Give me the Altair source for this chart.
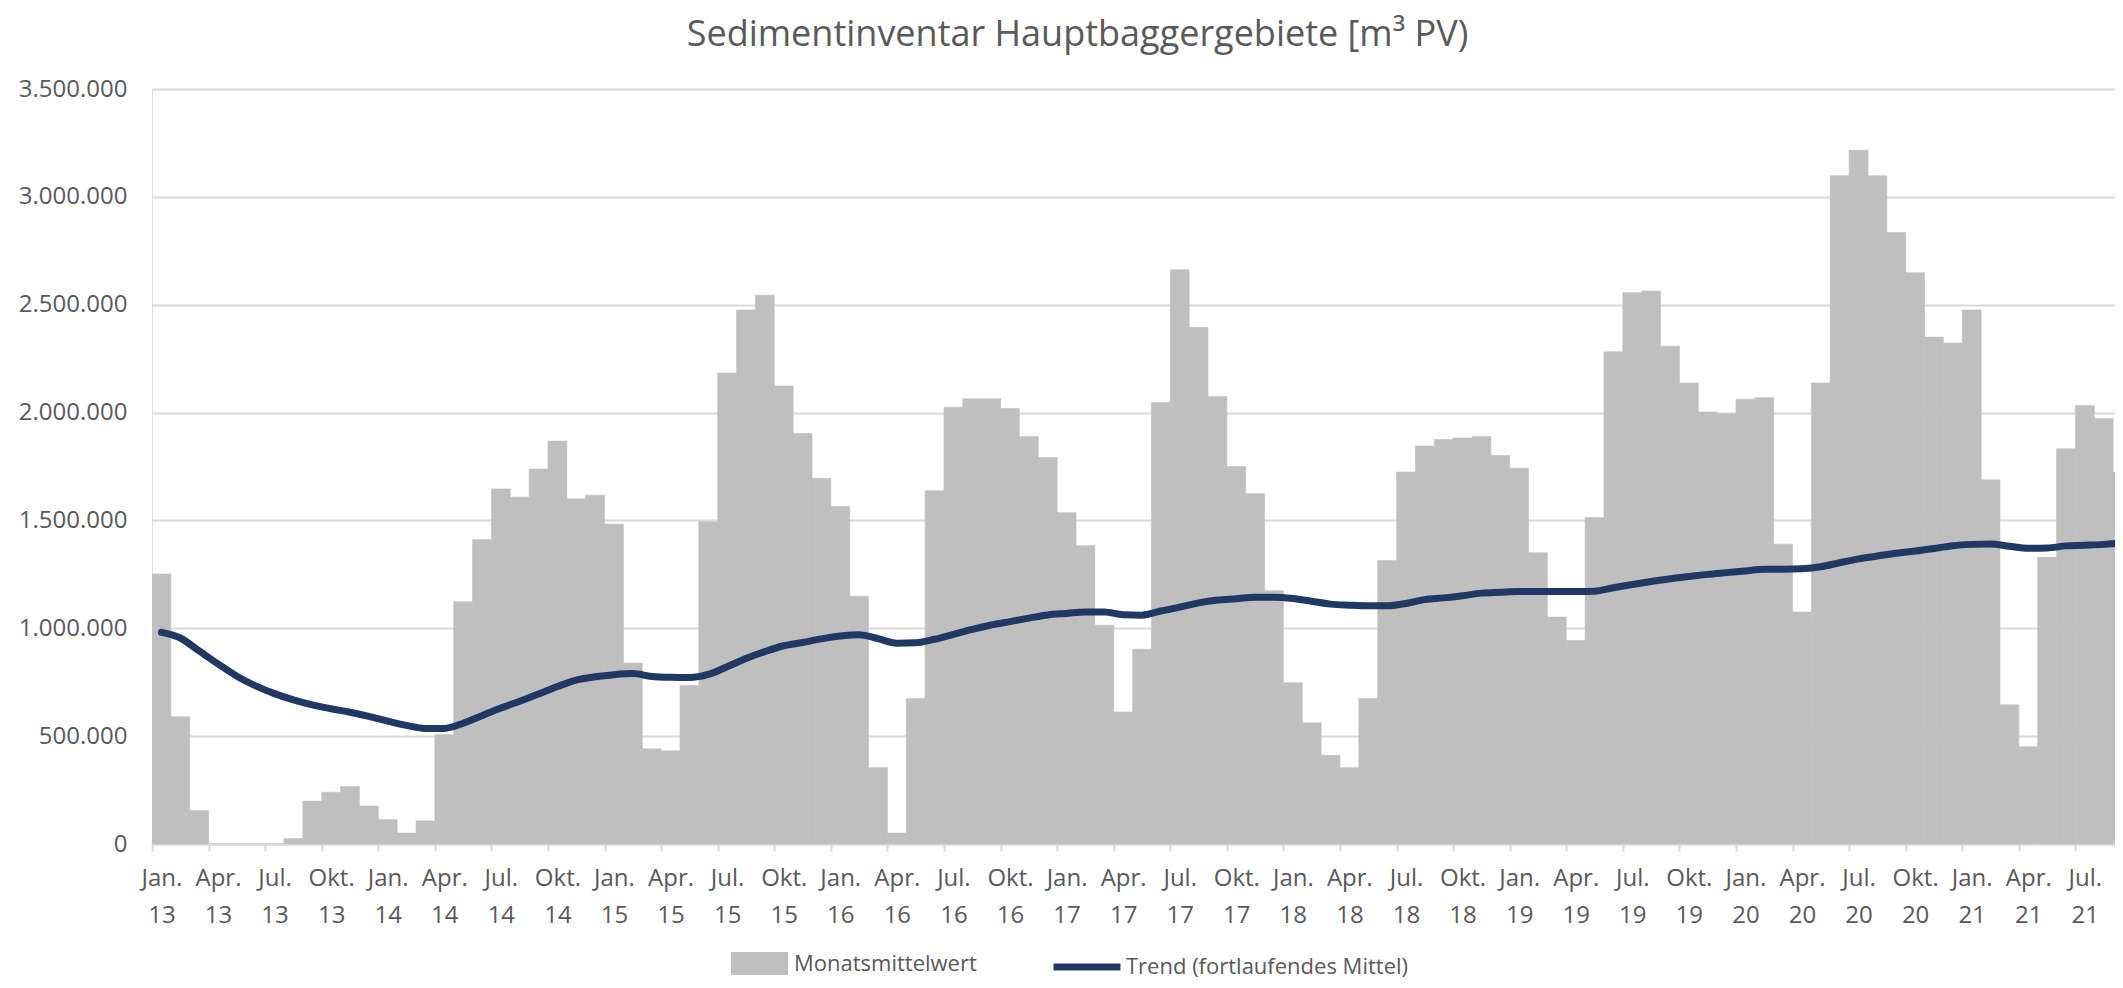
import altair as alt
import pandas as pd

# Monthly values Jan 2013 .. Sep 2021 (m³ PV)
monatsmittel = [
    1252000, 590000, 155000, 0, 0, 0, 0, 25000, 199000, 240000, 267000, 176000,
    113000, 51000, 107000, 508000, 1123000, 1411000, 1646000, 1608000, 1738000, 1868000, 1600000, 1617000,
    1483000, 839000, 441000, 432000, 735000, 1494000, 2184000, 2476000, 2544000, 2123000, 1903000, 1695000,
    1565000, 1149000, 354000, 51000, 675000, 1638000, 2025000, 2064000, 2064000, 2019000, 1889000, 1792000,
    1536000, 1383000, 1014000, 612000, 903000, 2047000, 2662000, 2395000, 2074000, 1750000, 1624000, 1174000,
    748000, 562000, 411000, 354000, 675000, 1314000, 1724000, 1845000, 1875000, 1882000, 1889000, 1801000,
    1742000, 1350000, 1052000, 943000, 1513000, 2282000, 2556000, 2563000, 2308000, 2137000, 2003000, 1995000,
    2062000, 2069000, 1390000, 1075000, 2137000, 3098000, 3216000, 3098000, 2835000, 2648000, 2350000, 2322000,
    2476000, 1688000, 645000, 451000, 1329000, 1832000, 2033000, 1972000, 1724000,
]

# Running mean (thousands m³ PV)
trend_k = [
    981, 955, 895, 835, 778, 733, 697, 668, 645, 627, 611, 592,
    570, 550, 536, 536, 560, 595, 630, 662, 695, 730, 760, 775,
    785, 790, 777, 773, 772, 786, 822, 860, 892, 919, 934, 951,
    964, 970, 952, 931, 933, 949, 972, 995, 1015, 1031, 1047, 1062,
    1069, 1076, 1075, 1063, 1061, 1080, 1098, 1118, 1131, 1137, 1144, 1144,
    1138, 1125, 1112, 1107, 1104, 1104, 1115, 1133, 1141, 1151, 1163, 1167,
    1170, 1170, 1170, 1170, 1172, 1188, 1203, 1217, 1230, 1240, 1250, 1258,
    1266, 1274, 1274, 1276, 1285, 1304, 1322, 1335, 1348, 1358, 1370, 1383,
    1389, 1391, 1380, 1371, 1372, 1382, 1385, 1389, 1397,
]

quarter_labels = ["Jan.", "Apr.", "Jul.", "Okt."]
bar_name = "Monatsmittelwert"
line_name = "Trend (fortlaufendes Mittel)"
title_text = "Sedimentinventar Hauptbaggergebiete [m³ PV)"
y_ticks = [0, 500000, 1000000, 1500000, 2000000, 2500000, 3000000, 3500000]

n = len(monatsmittel)
df_bar = pd.DataFrame({
    "i": list(range(n)),
    "i1": [k + 1 for k in range(n)],
    "v": monatsmittel,
    "bar_series": [bar_name] * n,
})
df_line = pd.DataFrame({
    "c": [k + 0.5 for k in range(n)],
    "t": [t * 1000 for t in trend_k],
    "line_series": [line_name] * len(trend_k),
})

FONT = "Open Sans"
TXT = "#595959"
GRID = "#d9d9d9"

W, H = 1963, 755
XMAX = 104.1
month_px = W / XMAX

label_arr = "[" + ",".join("'" + s + "'" for s in quarter_labels) + "]"
x_axis = alt.Axis(
    values=list(range(0, 103, 3)),
    labelExpr="[" + label_arr + "[(datum.value/3)%4], '' + (13 + floor(datum.value/12))]",
    labelOffset=month_px / 2,
    labelFlush=False,
    labelOverlap=False,
    labelFont=FONT,
    labelFontSize=24,
    labelColor=TXT,
    labelLineHeight=37,
    labelPadding=15,
    tickSize=7,
    tickWidth=2,
    tickColor=GRID,
    domainColor=GRID,
    domainWidth=2,
    grid=False,
    title=None,
)
y_axis = alt.Axis(
    values=y_ticks,
    labelExpr="replace(replace(format(datum.value, ',d'), ',', '.'), ',', '.')",
    labelFont=FONT,
    labelFontSize=24,
    labelColor=TXT,
    labelPadding=25,
    ticks=False,
    domain=False,
    grid=True,
    gridColor=GRID,
    gridWidth=2,
    title=None,
)
x_scale = alt.Scale(domain=[0, XMAX], nice=False, zero=False)
y_scale = alt.Scale(domain=[0, 3500000], nice=False)

bars = alt.Chart(df_bar).mark_rect(clip=True, stroke="#bfbfbf", strokeWidth=0.6).encode(
    x=alt.X("i:Q", scale=x_scale, axis=x_axis),
    x2="i1:Q",
    y=alt.Y("v:Q", scale=y_scale, axis=y_axis),
    y2=alt.datum(0),
    color=alt.Color(
        "bar_series:N",
        scale=alt.Scale(domain=[bar_name], range=["#bfbfbf"]),
        legend=alt.Legend(
            title=None, orient="none", legendX=579, legendY=846,
            symbolType="M-1,-0.4H1V0.4H-1Z", symbolSize=3249,
            symbolStrokeWidth=0, symbolOpacity=1,
            labelFont=FONT, labelFontSize=22, labelColor=TXT, labelOffset=6,
            labelLimit=600, padding=0,
        ),
    ),
)

line = alt.Chart(df_line).mark_line(clip=True, strokeWidth=7, interpolate="monotone", strokeCap="round").encode(
    x=alt.X("c:Q", scale=x_scale, axis=x_axis),
    y=alt.Y("t:Q", scale=y_scale, axis=y_axis),
    stroke=alt.Stroke(
        "line_series:N",
        scale=alt.Scale(domain=[line_name], range=["#1f3864"]),
        legend=alt.Legend(
            title=None, orient="none", legendX=898, legendY=841,
            symbolType="stroke", symbolSize=4489, symbolStrokeWidth=7,
            labelFont=FONT, labelFontSize=22, labelColor=TXT, labelOffset=2,
            labelLimit=600, padding=0,
        ),
    ),
)

chart = alt.layer(bars, line).properties(
    width=W,
    height=H,
    title=alt.Title(
        title_text, font=FONT, fontSize=36, fontWeight="normal", color=TXT,
        anchor="middle", dx=-56, offset=23,
    ),
    autosize=alt.AutoSizeParams(type="none"),
    padding={"left": 144, "top": 81, "right": 0, "bottom": 136},
).configure_view(stroke=None).configure(background="white")

chart.save("out.html", embed_options={"renderer": "svg", "actions": False})
